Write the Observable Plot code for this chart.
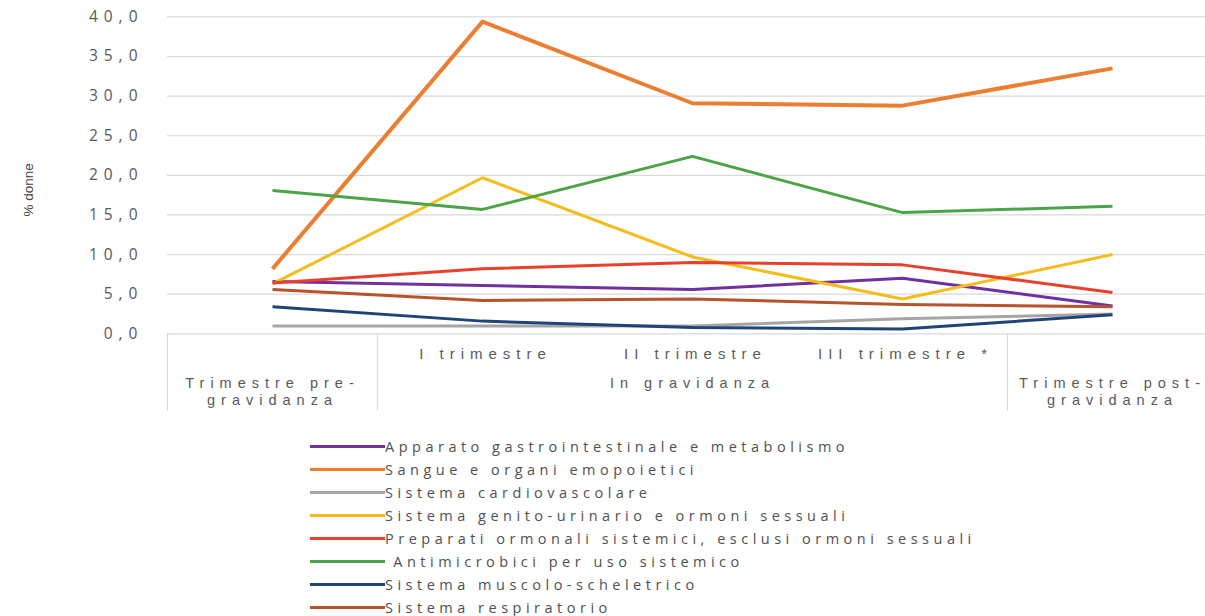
<!DOCTYPE html>
<html>
<head>
<meta charset="utf-8">
<script src="https://cdn.jsdelivr.net/npm/d3@7"></script>
<script src="https://cdn.jsdelivr.net/npm/@observablehq/plot@0.6"></script>
<style>
  body { margin: 0; background: #fff; overflow: hidden; }
  #legend { margin: 15px 0 0 310px; font-family: "Open Sans", sans-serif; }
  .row { display: flex; align-items: center; height: 23px; }
  .sw { width: 75px; height: 3px; flex: none; }
  .lab { font-size: 14.5px; letter-spacing: 4.5px; color: #505050; white-space: pre; }
</style>
</head>
<body>
<div id="chart"></div>
<div id="legend"></div>
<script>
// Periods on the x axis (index 0..4)
const periods = ["Trimestre pre-gravidanza", "I trimestre", "II trimestre", "III trimestre *", "Trimestre post-gravidanza"];
// Inner level of the category axis
const trimesterLabels = ["", "I trimestre", "II trimestre", "III trimestre *", ""];
// Outer level of the category axis: label and the periods it covers
const phaseLabels = ["Trimestre pre-\ngravidanza", "In gravidanza", "Trimestre post-\ngravidanza"];
const phaseFirst = [0, 1, 4];
const phaseLast = [0, 3, 4];

const yTicks = [0, 5, 10, 15, 20, 25, 30, 35, 40];

// ATC groups (legend order) and their colours
const seriesNames = [
  "Apparato gastrointestinale e metabolismo",
  "Sangue e organi emopoietici",
  "Sistema cardiovascolare",
  "Sistema genito-urinario e ormoni sessuali",
  "Preparati ormonali sistemici, esclusi ormoni sessuali",
  " Antimicrobici per uso sistemico",
  "Sistema muscolo-scheletrico",
  "Sistema respiratorio"
];
const seriesColors = ["#7030A0", "#ED7D31", "#A5A5A5", "#F5BC1C", "#E8402A", "#4BA447", "#1F4478", "#B5552B"];

// % donne per period
const gastro       = [6.6, 6.1, 5.6, 7.0, 3.5];
const sangue       = [8.2, 39.4, 29.1, 28.8, 33.5];
const cardio       = [1.0, 1.0, 1.0, 1.9, 2.5];
const genito       = [6.3, 19.7, 9.7, 4.4, 10.0];
const ormonali     = [6.4, 8.2, 9.0, 8.7, 5.2];
const antimicrob   = [18.1, 15.7, 22.4, 15.3, 16.1];
const muscolo      = [3.4, 1.6, 0.8, 0.6, 2.4];
const respiratorio = [5.6, 4.2, 4.4, 3.7, 3.4];

const seriesValues = [gastro, sangue, cardio, genito, ormonali, antimicrob, muscolo, respiratorio];
const seriesWidths = [3, 4, 3, 3, 3, 3, 3, 3];

const fmt = d => d.toFixed(1).replace(".", ",");

const lineMarks = seriesNames.map((name, s) =>
  Plot.line(seriesValues[s].map((v, i) => ({i, v})), {
    x: "i", y: "v",
    stroke: seriesColors[s],
    strokeWidth: seriesWidths[s],
    strokeLinejoin: "round",
    strokeLinecap: "butt"
  })
);

const trimesterRows = trimesterLabels.map((t, i) => ({i, t})).filter(d => d.t);
const phaseRows = phaseLabels.map((label, k) => ({label, mid: (phaseFirst[k] + phaseLast[k]) / 2}));
// separators of the category axis sit between phases
const separators = [phaseFirst[0] - 0.5, ...phaseLast.slice(0, -1).map(d => d + 0.5)];

const tickTracking = 6;
const catTracking = 6;
const catFont = "'Liberation Sans', Arial, sans-serif";

const chart = Plot.plot({
  width: 1205,
  height: 420,
  marginLeft: 167,
  marginRight: 0,
  marginTop: 10,
  marginBottom: 10,
  style: {fontFamily: "'Open Sans', sans-serif", color: "#595959", background: "#fff"},
  x: {domain: [-0.5, 4.5], range: [167, 1217], axis: null},
  y: {domain: [0, 40], range: [333.3, 16.4], axis: null},
  marks: [
    Plot.gridY(yTicks, {stroke: "#d9d9d9", strokeOpacity: 1, strokeWidth: 1.2}),
    Plot.axisY(yTicks, {tickSize: 0, tickPadding: 30 - tickTracking, tickFormat: fmt, fontSize: 15.5, fill: "#595959", label: null}),
    Plot.ruleX(separators, {x: d => d, y1: 0, y2: 0, insetBottom: -77, stroke: "#d9d9d9", strokeWidth: 1.2}),
    Plot.text(trimesterRows, {x: "i", y: 0, text: "t", dy: 20, dx: catTracking / 2, fontSize: 15, fontFamily: catFont, fill: "#595959"}),
    Plot.text(phaseRows, {x: "mid", y: 0, text: "label", dy: 42, dx: catTracking / 2 - 3, lineAnchor: "top", lineHeight: 1.17, fontSize: 14.5, fontFamily: catFont, fill: "#595959"}),
    Plot.text(["% donne"], {frameAnchor: "left", text: d => d, rotate: -90, dx: -139, dy: 6, fontSize: 13.5,
      fontFamily: "'Liberation Sans Narrow', 'Liberation Sans', sans-serif", fill: "#404040"}),
    ...lineMarks
  ]
});

document.getElementById("chart").appendChild(chart);

// wide tracking for the axis texts
d3.select(chart).selectAll('g[aria-label="y-axis tick label"] text').style("letter-spacing", tickTracking + "px");
d3.select(chart).selectAll('g[aria-label="text"] text').style("letter-spacing", catTracking + "px");
d3.select(chart).selectAll("text").filter(function() { return this.textContent === "% donne"; }).style("letter-spacing", "0px");

// legend
const legend = d3.select("#legend");
seriesNames.forEach((name, s) => {
  const row = legend.append("div").attr("class", "row");
  row.append("div").attr("class", "sw").style("background", seriesColors[s]);
  row.append("div").attr("class", "lab").text(name);
});
</script>
</body>
</html>
